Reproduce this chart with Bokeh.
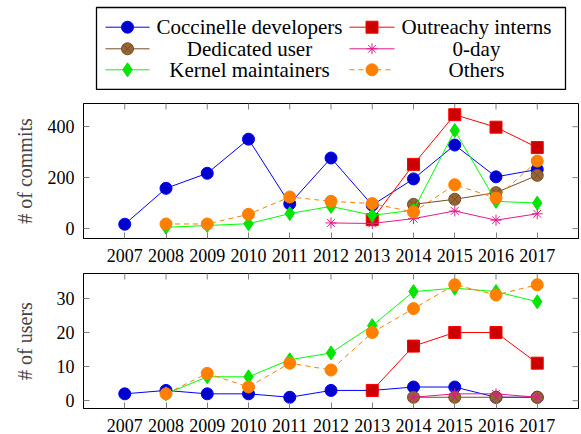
import math
from bokeh.plotting import figure
from bokeh.layouts import column
from bokeh.models import FixedTicker, Range1d
from bokeh.core.properties import value
from bokeh.embed import file_html
from bokeh.resources import INLINE

# ---------------- data ----------------
years = [2007, 2008, 2009, 2010, 2011, 2012, 2013, 2014, 2015, 2016, 2017]
years_outreachy = [2013, 2014, 2015, 2016, 2017]
years_dedicated = [2014, 2015, 2016, 2017]
years_zeroday_commits = [2012, 2013, 2014, 2015, 2016, 2017]
years_zeroday_users = [2014, 2015, 2016, 2017]
years_kernel = [2008, 2009, 2010, 2011, 2012, 2013, 2014, 2015, 2016, 2017]
years_others = [2008, 2009, 2010, 2011, 2012, 2013, 2014, 2015, 2016, 2017]

coccinelle_commits = [17, 158, 217, 351, 97, 277, 92, 195, 328, 203, 232]
outreachy_commits = [35, 252, 447, 398, 318]
dedicated_commits = [95, 115, 141, 209]
zeroday_commits = [22, 20, 39, 69, 33, 58]
kernel_commits = [5, 12, 19, 59, 87, 52, 72, 385, 107, 100]
others_commits = [18, 18, 56, 124, 107, 98, 65, 172, 120, 265]

coccinelle_users = [2, 3, 2, 2, 1, 3, 3, 4, 4, 1, 1]
outreachy_users = [3, 16, 20, 20, 11]
dedicated_users = [1, 1, 1, 1]
zeroday_users = [1, 2, 2, 1]
kernel_users = [2, 7, 7, 12, 14, 22, 32, 33, 32, 29]
others_users = [2, 8, 4, 11, 9, 20, 27, 34, 31, 34]

series_names = ["Coccinelle developers", "Outreachy interns", "Dedicated user",
                "0-day", "Kernel maintainers", "Others"]
commit_ticks = [0, 200, 400]
user_ticks = [0, 10, 20, 30]

# ---------------- styles ----------------
FONT = "Liberation Serif"
TICK_COLOR = "#808080"
styles = [
    dict(line="#0000FF", fill="#0000CC", mline="#0000FF", marker="circle", size=12, dash="solid"),
    dict(line="#FF0000", fill="#CC0000", mline="#FF0000", marker="square", size=12, dash="solid"),
    dict(line="#734D26", fill="#996633", mline="#734D26", marker="circle_x", size=12, dash="solid"),
    dict(line="#E6198C", fill="#E6198C", mline="#E6198C", marker="asterisk", size=11, dash="solid"),
    dict(line="#00FF00", fill="#00E600", mline="#00E600", marker="diamond", size=14, dash="solid"),
    dict(line="#FF8000", fill="#FF8000", mline="#FF8000", marker="circle", size=12, dash="5 4"),
]

BORDER_L, BORDER_R, FULL_W = 83, 3, 581


def style_axis(ax, ticks, standoff):
    ax.ticker = FixedTicker(ticks=ticks)
    ax.major_tick_in = 6
    ax.major_tick_out = 0
    ax.minor_tick_line_color = None
    ax.major_tick_line_color = TICK_COLOR
    ax.axis_line_color = "black"
    ax.major_label_text_font = FONT
    ax.major_label_text_color = "black"
    ax.major_label_text_font_size = "18px"
    ax.major_label_standoff = standoff


def make_panel(data, xr, yr, yticks, ylabel, label_standoff, height, top_border, bottom_border):
    p = figure(x_range=Range1d(*xr), y_range=Range1d(*yr),
               width=FULL_W, height=height,
               min_border_left=BORDER_L, min_border_right=BORDER_R,
               min_border_top=top_border, min_border_bottom=bottom_border,
               output_backend="svg", toolbar_location=None)
    p.grid.visible = False
    p.outline_line_color = "black"
    p.outline_line_alpha = 1
    p.background_fill_color = "white"
    p.border_fill_color = "white"
    style_axis(p.xaxis[0], years, 10)
    style_axis(p.yaxis[0], yticks, 9)
    p.yaxis.axis_label = ylabel
    p.yaxis.axis_label_text_font = FONT
    p.yaxis.axis_label_text_font_size = "20px"
    p.yaxis.axis_label_text_font_style = "normal"
    p.yaxis.axis_label_standoff = label_standoff
    # mirrored inward ticks on the top and right frame edges (clipped dash markers)
    p.scatter(years, [yr[1]] * len(years), marker="dash", angle=math.pi / 2, size=12,
              line_color=TICK_COLOR, line_width=1)
    p.scatter([xr[1]] * len(yticks), yticks, marker="dash", size=12,
              line_color=TICK_COLOR, line_width=1)
    for (xs, ys), st in zip(data, styles):
        p.line(xs, ys, line_color=st["line"], line_width=1, line_dash=st["dash"])
        p.scatter(xs, ys, marker=st["marker"], size=st["size"],
                  fill_color=st["fill"], line_color=st["mline"], line_width=1)
    return p


top_data = [(years, coccinelle_commits), (years_outreachy, outreachy_commits),
            (years_dedicated, dedicated_commits), (years_zeroday_commits, zeroday_commits),
            (years_kernel, kernel_commits), (years_others, others_commits)]
bottom_data = [(years, coccinelle_users), (years_outreachy, outreachy_users),
               (years_dedicated, dedicated_users), (years_zeroday_users, zeroday_users),
               (years_kernel, kernel_users), (years_others, others_users)]

x_limits = (2006, 2018)
p_top = make_panel(top_data, x_limits, (-39, 491), commit_ticks, "# of commits", 9, 176, 13, 28)
p_bot = make_panel(bottom_data, x_limits, (-2.3, 37.3), user_ticks, "# of users", 18, 168, 7, 26)

# ---------------- legend panel (frame aligned with the panels, pixel units) ----------------
LW = FULL_W - BORDER_L - BORDER_R
LH = 90
leg = figure(x_range=Range1d(0, LW), y_range=Range1d(LH, 0),
             width=FULL_W, height=LH,
             min_border_left=BORDER_L, min_border_right=BORDER_R, min_border_top=0, min_border_bottom=0,
             output_backend="svg", toolbar_location=None)
leg.axis.visible = False
leg.grid.visible = False
leg.outline_line_color = None
box = dict(left=13, right=482, top=7, bottom=89)
leg.quad(left=[box["left"]], right=[box["right"]], top=[box["top"]], bottom=[box["bottom"]],
         fill_color=None, line_color="black", line_width=1.3)
row_y = [26.7, 48.3, 69.3]
col_line = [(22, 66), (266, 311)]
col_text = [166, 393]
for i, (name, st) in enumerate(zip(series_names, styles)):
    r, c = divmod(i, 2)
    x0, x1 = col_line[c]
    y = row_y[r]
    leg.line([x0, x1], [y, y], line_color=st["line"], line_width=1, line_dash=st["dash"])
    leg.scatter([(x0 + x1) / 2], [y], marker=st["marker"], size=st["size"],
                fill_color=st["fill"], line_color=st["mline"], line_width=1)
    leg.text([col_text[c]], [y], text=[name], text_align="center", text_baseline="middle",
             text_font=value(FONT), text_font_size="21px", text_color="black")

layout = column(leg, p_top, p_bot, spacing=0)
open("out.html", "w").write(file_html(layout, INLINE))
